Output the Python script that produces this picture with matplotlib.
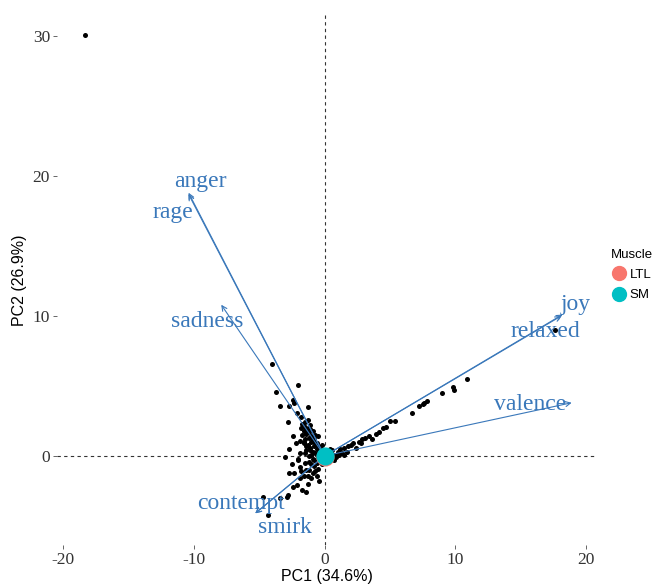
import matplotlib
matplotlib.use('Agg')
import matplotlib.pyplot as plt
from matplotlib.lines import Line2D

plt.rcParams['axes.unicode_minus'] = False

# individual scores (PC1, PC2)
pc1 = [-18.3, -4.0, -2.0, -3.7, -2.4, -3.4, -2.7, -2.3, -1.3, -2.1, -2.8, -1.5, -2.4, -0.5,
       -2.7, -3.0, -2.0, -2.7, -2.3, -1.9, -1.4, -2.9, -4.7, -2.8, -4.3,
       -1.8, -1.6, -1.7, -1.4, -1.5, -1.2, -1.6, -1.3, -1.0, -1.1, -0.8, -1.4, -0.9, -0.6,
       -0.7, -0.4, -1.9, -1.2, -0.5, -0.3, -0.8, -1.5, -1.0, -0.6, -0.3, -1.2, -0.9, -0.5,
       -1.6, -1.0, -1.3, -2.1, -1.7, -0.6, -0.2, -0.1, -0.2, -0.9, -1.1, -0.7, -2.2, -2.5,
       -1.9, -0.4, -1.4, -2.4, -3.4, -1.1, -0.8, -1.3, -0.6, -1.8, -1.0,
       -1.7, -1.5, -1.3, -1.2, -1.0, -0.9, -0.8, -0.7, -0.5, -0.4, -1.6, -1.4, -1.1, -0.9,
       -0.6, -0.3, -1.9, -1.5, -1.2, -0.8, -2.0, -1.8, -1.3, -0.7,
       10.9, 9.8, 9.9, 9.0, 7.8, 7.6, 7.5, 7.2, 6.7, 5.4, 5.0, 4.7, 4.5, 3.9, 3.4, 3.1,
       2.9, 2.6, 2.2, 2.0, 1.8, 1.5, 1.2, 1.0, 1.5, 17.6,
       0.5, 0.8, 0.3, 0.6, 1.1, 0.4, 2.4, 1.7, 0.9, 2.8, 3.6, 4.2, 0.2, 1.3, 0.7]
pc2 = [30.1, 6.6, 5.1, 4.6, 4.0, 3.6, 3.6, 3.8, 3.5, 3.1, 2.4, 2.4, 1.4, 1.4,
       0.5, -0.1, -0.3, -1.2, -1.2, -1.6, -1.0, -2.9, -2.9, -2.8, -4.2,
       2.0, 1.8, 1.5, 1.6, 1.2, 1.3, 0.9, 0.8, 1.0, 0.6, 0.7, 0.4, 0.3, 0.5,
       0.2, 0.3, 0.2, 0.0, -0.1, 0.1, -0.3, -0.5, -0.6, -0.5, -0.3, -1.0, -1.2, -0.9,
       -1.4, -1.6, -2.0, -2.1, -2.4, -1.4, -0.6, 0.4, 0.8, 1.8, 2.2, 1.5, 0.9, -0.6,
       -0.8, -1.8, -2.6, -2.2, -3.0, 1.9, 1.2, 2.6, 0.9, 2.8, 0.1,
       2.3, 2.1, 1.9, 1.7, 1.4, 1.2, 1.1, 0.9, 0.7, 0.6, 1.0, 0.7, 0.4, -0.2,
       0.1, -0.1, 1.1, 0.2, -0.4, -0.7, -0.2, -1.1, -1.4, -1.1,
       5.5, 4.9, 4.7, 4.5, 3.9, 3.8, 3.7, 3.6, 3.1, 2.5, 2.5, 2.1, 2.0, 1.6, 1.4, 1.3,
       1.2, 1.0, 0.9, 0.8, 0.7, 0.6, 0.5, 0.3, 0.1, 9.0,
       0.2, 0.1, -0.2, 0.4, 0.1, 0.5, 0.6, 0.3, -0.1, 0.9, 1.2, 1.7, -0.4, 0.2, -0.3]

# variable loadings (arrow tips) and label positions
variables = ['anger', 'rage', 'sadness', 'joy', 'relaxed', 'valence', 'contempt', 'smirk']
var_x = [-10.4, -10.4, -7.9, 18.2, 18.1, 18.9, -5.3, -5.3]
var_y = [18.8, 18.7, 10.8, 10.1, 10.0, 3.8, -4.1, -4.1]
lab_x = [-9.5, -11.6, -9.0, 19.2, 16.9, 15.7, -6.4, -3.0]
lab_y = [19.6, 17.4, 9.6, 10.8, 8.9, 3.7, -3.4, -5.1]

groups = ['LTL', 'SM']
group_colors = ['#F8766D', '#00BFC4']
group_x = [0.05, 0.0]
group_y = [-0.1, 0.0]

arrow_col = '#3A78BA'

fig = plt.figure(figsize=(6.62, 5.87), dpi=100)
ax = fig.add_axes([0.0861, 0.0716, 0.8142, 0.9029])

ax.axhline(0, color='#333333', ls=(0, (3, 3)), lw=0.8, zorder=1)
ax.axvline(0, color='#333333', ls=(0, (3, 3)), lw=0.8, zorder=1)

ax.scatter(pc1, pc2, s=13, color='black', zorder=2, linewidths=0)

for name, vx, vy, lx, ly in zip(variables, var_x, var_y, lab_x, lab_y):
    ax.annotate('', xy=(vx, vy), xytext=(0, 0),
                arrowprops=dict(arrowstyle='->', color=arrow_col, lw=0.8,
                                shrinkA=0, shrinkB=0, mutation_scale=9), zorder=3)
    ax.text(lx, ly, name, color=arrow_col, fontsize=17, family='Liberation Serif',
            ha='center', va='center', zorder=4)

for g, c, gx, gy in zip(groups, group_colors, group_x, group_y):
    ax.scatter([gx], [gy], s=170, color=c, zorder=5, linewidths=0)

ax.set_xlim(-20.46, 20.76)
ax.set_ylim(-6.36, 31.5)
ax.set_xticks([-20, -10, 0, 10, 20])
ax.set_yticks([0, 10, 20, 30])
for lab in ax.get_xticklabels() + ax.get_yticklabels():
    lab.set_family('Liberation Serif')
    lab.set_fontsize(12.5)
ax.tick_params(colors='#4D4D4D', length=3, width=0.6, labelcolor='#333333', pad=2)
for s in ax.spines.values():
    s.set_visible(False)

ax.set_xlabel('PC1 (34.6%)', fontsize=11.5, family='Liberation Sans', labelpad=1)
ax.set_ylabel('PC2 (26.9%)', fontsize=11.5, family='Liberation Sans', labelpad=4)

handles = [Line2D([], [], marker='o', ls='', color=c, markersize=10) for c in group_colors]
fig.legend(handles, groups, title='Muscle', loc='upper left', bbox_to_anchor=(0.915, 0.585),
           frameon=False, prop={'family': 'Liberation Sans', 'size': 9.5},
           title_fontproperties={'family': 'Liberation Sans', 'size': 9.5},
           handletextpad=0.2, labelspacing=0.6, borderaxespad=0, handlelength=1.2,
           alignment='left')

fig.savefig('out.png', dpi=100)
